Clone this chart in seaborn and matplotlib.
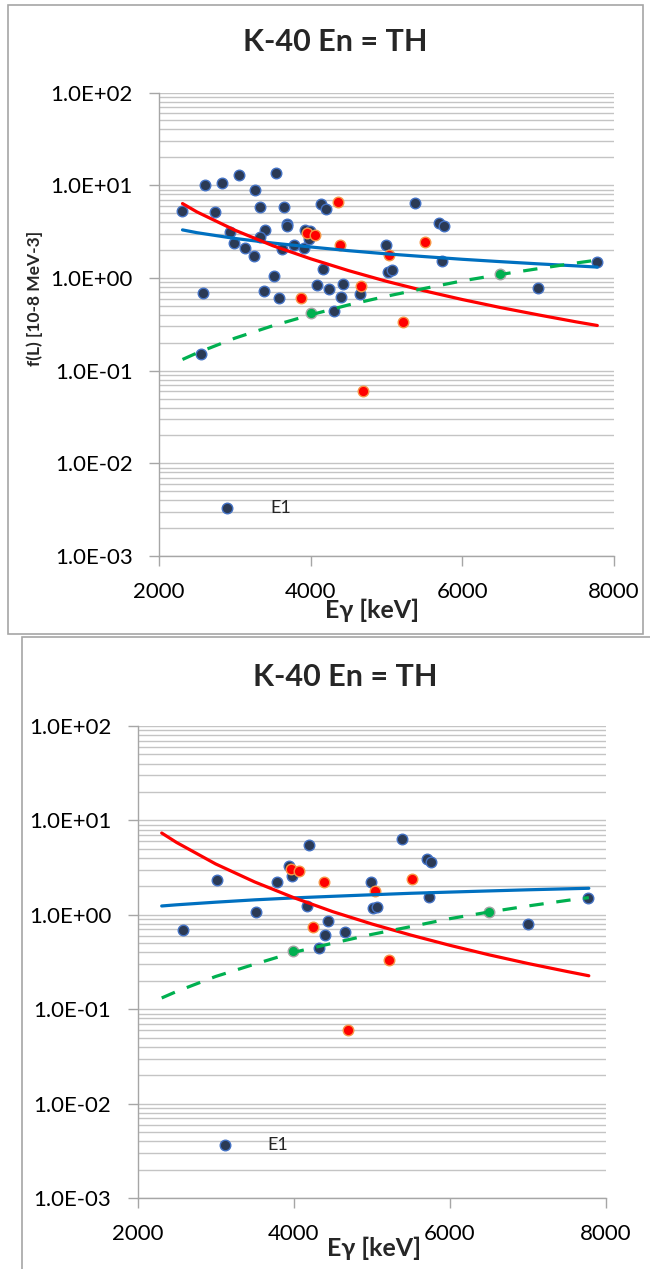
import matplotlib
matplotlib.use("Agg")
import numpy as np
import pandas as pd
import seaborn as sns
import matplotlib.pyplot as plt
from matplotlib.patches import Rectangle
from matplotlib.ticker import FixedLocator, FuncFormatter, NullFormatter

sns.set_theme(style="white")
plt.rcParams['font.family'] = ['Lato', 'DejaVu Sans']

# ---------------- data: top panel ----------------
top_blue_x = [2307, 2607, 2835, 3055, 3262, 3543, 2734, 3332, 3648, 4132, 4198, 5380,
              5697, 5758, 3683, 3693, 3402, 2940, 2989, 3134, 3257, 3332, 3618, 3784,
              3912, 3925, 3991, 3978, 4167, 4993, 5015, 5073, 5732, 7776, 7000, 3516,
              2585, 3380, 3587, 4084, 4242, 4431, 4404, 4651, 4308, 2557]
top_blue_y = [5.28, 10.07, 10.5, 12.9, 8.97, 13.5, 5.19, 5.84, 5.84, 6.28, 5.5, 6.49,
              3.89, 3.67, 3.83, 3.6, 3.27, 3.11, 2.37, 2.11, 1.73, 2.75, 2.07, 2.25,
              2.09, 3.3, 3.21, 2.61, 1.24, 2.25, 1.17, 1.22, 1.54, 1.5, 0.78, 1.06,
              0.695, 0.724, 0.604, 0.848, 0.755, 0.861, 0.628, 0.667, 0.443, 0.152]
top_red_x = [4360, 3956, 4057, 4387, 5037, 5508, 4668, 3877, 5222, 4694]
top_red_y = [6.65, 3.03, 2.91, 2.27, 1.76, 2.43, 0.826, 0.613, 0.333, 0.060]
top_green_x = [4004, 6503]
top_green_y = [0.416, 1.09]

# ---------------- data: bottom panel ----------------
bot_blue_x = [2583, 3014, 3522, 3783, 3936, 3983, 4200, 4171, 4436, 4405, 4657, 4320,
              4990, 5012, 5067, 5382, 5704, 5759, 5729, 6998, 7767]
bot_blue_y = [0.69, 2.34, 1.06, 2.21, 3.31, 2.59, 5.53, 1.23, 0.867, 0.611, 0.663, 0.449,
              2.22, 1.17, 1.22, 6.35, 3.87, 3.66, 1.53, 0.79, 1.50]
bot_red_x = [3962, 4064, 4384, 5046, 5512, 4243, 5221, 4693]
bot_red_y = [3.05, 2.91, 2.22, 1.79, 2.42, 0.748, 0.332, 0.0596]
bot_green_x = [3996, 6505]
bot_green_y = [0.414, 1.08]

# ---------------- trend curves ----------------
trend_x = [2310, 2500, 3000, 3500, 4000, 4500, 5000, 5500, 6000, 6500, 7000, 7500, 7780]
top_blue_fit = [3.30, 3.08, 2.67, 2.38, 2.16, 1.97, 1.82, 1.70, 1.59, 1.50, 1.42, 1.35, 1.31]
top_red_fit = [6.35, 5.16, 3.28, 2.23, 1.61, 1.20, 0.92, 0.726, 0.585, 0.48, 0.40, 0.336, 0.307]
top_green_fit = [0.132, 0.155, 0.224, 0.305, 0.40, 0.512, 0.635, 0.771, 0.93, 1.09, 1.26, 1.45, 1.56]
bot_blue_fit = [1.24, 1.276, 1.36, 1.44, 1.51, 1.57, 1.63, 1.69, 1.74, 1.79, 1.84, 1.885, 1.91]
bot_red_fit = [7.35, 5.84, 3.46, 2.23, 1.52, 1.08, 0.80, 0.61, 0.475, 0.377, 0.305, 0.251, 0.226]
bot_green_fit = [0.1315, 0.154, 0.222, 0.30, 0.40, 0.50, 0.62, 0.75, 0.91, 1.07, 1.24, 1.42, 1.52]

title_text = "K-40 En = TH"
x_label = "Eγ [keV]"
y_label = "f(L) [10-8 MeV-3]"
legend_label = "E1"
x_ticks = [2000, 4000, 6000, 8000]
y_ticks = [1e-3, 1e-2, 1e-1, 1e0, 1e1, 1e2]

# ---------------- styling ----------------
NAVY, NAVY_EDGE = "#2B3A55", "#4472C4"
RED, RED_EDGE = "#FF0000", "#F79646"
GREEN, GREEN_EDGE = "#00B050", "#A5A5A5"
BLUE_LINE, RED_LINE, GREEN_LINE = "#0070C0", "#FF0000", "#00B050"
GRID = "#C4C4C4"
AXC = "#A6A6A6"

W, H = 650, 1269
fig = plt.figure(figsize=(W / 100, H / 100), dpi=100)
fig.patch.set_facecolor("white")


def rect(l, t, r, b):
    return [l / W, 1 - b / H, (r - l) / W, (b - t) / H]


# panel frames
fig.patches.append(Rectangle((8 / W, 1 - 634 / H), (643 - 8) / W, (634 - 5) / H,
                             transform=fig.transFigure, fill=False, ec=AXC, lw=1.2))
fig.patches.append(Rectangle((21.5 / W, 1 - 1290 / H), (700 - 21.5) / W, (1290 - 637) / H,
                             transform=fig.transFigure, fill=False, ec=AXC, lw=1.2))

ax1 = fig.add_axes(rect(159, 92.6, 614, 556))
ax2 = fig.add_axes(rect(137.5, 726, 606, 1198))

minor_locs = [m * 10.0 ** e for e in range(-3, 2) for m in range(2, 10)]


def draw(ax, bx, by, rx, ry, gx, gy, bfit, rfit, gfit):
    ax.set_facecolor("white")
    sns.scatterplot(x=bx, y=by, ax=ax, color=NAVY, edgecolor=NAVY_EDGE, linewidth=1.0,
                    s=58, zorder=3, label=legend_label)
    sns.scatterplot(x=rx, y=ry, ax=ax, color=RED, edgecolor=RED_EDGE, linewidth=1.0,
                    s=58, zorder=3)
    sns.scatterplot(x=gx, y=gy, ax=ax, color=GREEN, edgecolor=GREEN_EDGE, linewidth=1.0,
                    s=58, zorder=3)
    sns.lineplot(x=trend_x, y=bfit, ax=ax, color=BLUE_LINE, lw=2.3, zorder=4)
    sns.lineplot(x=trend_x, y=rfit, ax=ax, color=RED_LINE, lw=2.3, zorder=4)
    sns.lineplot(x=trend_x, y=gfit, ax=ax, color=GREEN_LINE, lw=2.3, zorder=4,
                 linestyle=(0, (4.5, 4.0)))
    ax.set_yscale("log")
    ax.set_xlim(2000, 8000)
    ax.set_ylim(1e-3, 1e2)
    ax.xaxis.set_major_locator(FixedLocator(x_ticks))
    ax.yaxis.set_major_locator(FixedLocator(y_ticks))
    ax.yaxis.set_minor_locator(FixedLocator(minor_locs))
    ax.yaxis.set_minor_formatter(NullFormatter())
    ax.yaxis.set_major_formatter(FuncFormatter(lambda v, p: f"{v:.1E}"))
    ax.xaxis.set_major_formatter(FuncFormatter(lambda v, p: f"{int(v)}"))
    ax.grid(True, which="both", axis="y", color=GRID, lw=1.0, zorder=0)
    ax.grid(False, axis="x")
    ax.set_axisbelow(True)
    for s in ["top", "right"]:
        ax.spines[s].set_visible(False)
    for s in ["left", "bottom"]:
        ax.spines[s].set_color(AXC)
        ax.spines[s].set_linewidth(1.0)
    ax.tick_params(axis="both", which="major", direction="out", length=7, width=1.0,
                   color=AXC, labelsize=16, labelcolor="black", pad=12,
                   bottom=True, left=True)
    ax.tick_params(which="minor", length=0, left=False)


draw(ax1, top_blue_x, top_blue_y, top_red_x, top_red_y, top_green_x, top_green_y,
     top_blue_fit, top_red_fit, top_green_fit)
draw(ax2, bot_blue_x, bot_blue_y, bot_red_x, bot_red_y, bot_green_x, bot_green_y,
     bot_blue_fit, bot_red_fit, bot_green_fit)

# titles
ax1.set_title(title_text, x=0.387, y=1.092, va="center", fontsize=22, fontweight="bold")
ax2.set_title(title_text, x=0.443, y=1.087, va="center", fontsize=22, fontweight="bold")

# axis labels
for ax, xl, yl in [(ax1, 0.468, -0.092), (ax2, 0.505, -0.082)]:
    ax.set_xlabel(x_label, fontsize=18, fontweight="bold")
    ax.xaxis.set_label_coords(xl, yl)
ax1.set_ylabel(y_label, fontsize=12.5, fontweight="bold")
ax1.yaxis.set_label_coords(-0.255, 0.555)
ax2.set_ylabel("")

# legends (E1)
for ax, lx, ly in [(ax1, 0.1297, 0.1036), (ax2, 0.1665, 0.1123)]:
    ax.legend(loc="center left", bbox_to_anchor=(lx, ly), frameon=False, fontsize=13,
              borderaxespad=0, borderpad=0, handlelength=1.0, handletextpad=1.9,
              scatterpoints=1)

fig.savefig("out.png", dpi=100, facecolor="white")
